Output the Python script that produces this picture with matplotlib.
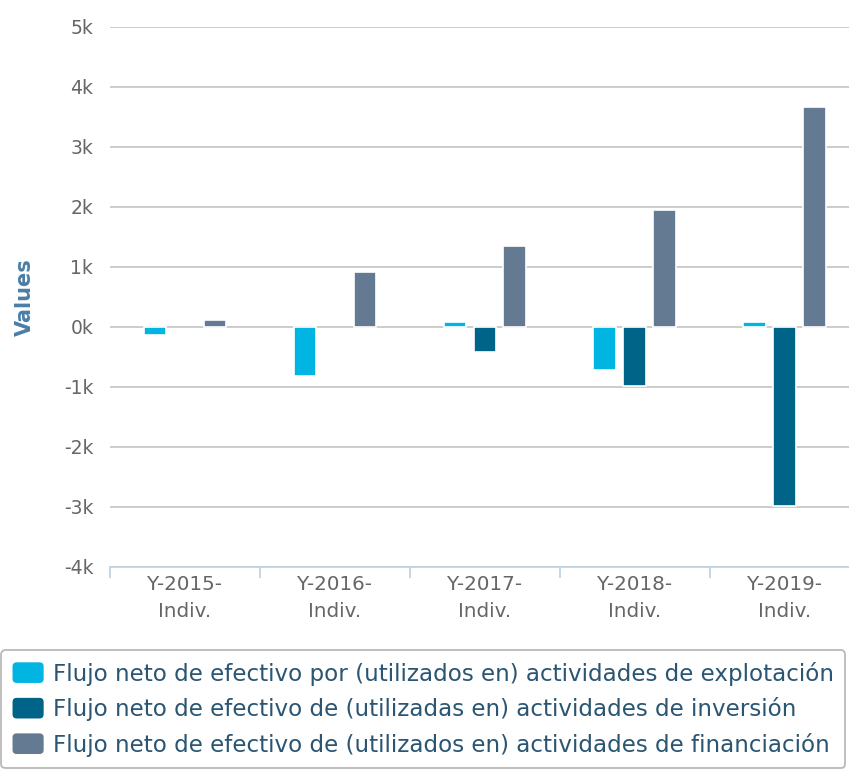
import matplotlib
matplotlib.use("Agg")
import matplotlib.pyplot as plt
import numpy as np
from matplotlib.ticker import FuncFormatter, FixedLocator
from matplotlib.patches import Patch, FancyBboxPatch
from matplotlib.legend_handler import HandlerPatch

plt.rcParams['font.family'] = ['DejaVu Sans']

categories = ["Y-2015-\nIndiv.", "Y-2016-\nIndiv.", "Y-2017-\nIndiv.", "Y-2018-\nIndiv.", "Y-2019-\nIndiv."]
series_names = [
    "Flujo neto de efectivo por (utilizados en) actividades de explotación",
    "Flujo neto de efectivo de (utilizadas en) actividades de inversión",
    "Flujo neto de efectivo de (utilizados en) actividades de financiación",
]
explotacion = [-140, -810, 80, -720, 80]
inversion = [0, 0, -410, -980, -2990]
financiacion = [110, 920, 1350, 1950, 3670]
colors = ["#00b5e2", "#006489", "#647a93"]

fig = plt.figure(figsize=(8.49, 7.73), dpi=100)
ax = fig.add_axes([110/849, 1-567/773, 1-110/849, (567-27)/773])

x = np.arange(len(categories))
width = 0.15
offsets = [-0.2, 0.0, 0.2]
all_series = [explotacion, inversion, financiacion]
for s, off, c, name in zip(all_series, offsets, colors, series_names):
    b = ax.bar(x + off, s, width=width, color=c, edgecolor="white", linewidth=1.2, zorder=3, label=name)
    for rect, v in zip(b.patches, s):
        if v == 0:
            rect.set_visible(False)

ax.set_ylim(-4000, 5000)
ax.set_xlim(-0.5, 4.43)
ax.set_yticks(np.arange(-4000, 5001, 1000))
ax.yaxis.set_major_formatter(FuncFormatter(lambda v, p: f"{int(round(v/1000))}k"))
ax.grid(axis="y", color="#c8c8c8", linewidth=1.3, zorder=0)
ax.set_axisbelow(True)
for sp in ["top", "right", "left"]:
    ax.spines[sp].set_visible(False)
ax.spines["bottom"].set_color("#c0d4e4")
ax.spines["bottom"].set_linewidth(1.3)
ax.tick_params(axis="y", length=0, pad=12, labelsize=13.5, labelcolor="#666666")

ax.set_xticks(x)
ax.set_xticklabels(categories, fontsize=14.3, color="#666666", linespacing=1.5)
ax.tick_params(axis="x", which="major", length=0, pad=6)
ax.xaxis.set_minor_locator(FixedLocator(np.arange(-0.5, 4.6, 1.0)))
ax.tick_params(axis="x", which="minor", length=8, color="#c0d4e4", width=1.3)

fig.text(25/849, 1-297/773, "Values", rotation=90, ha="center", va="center",
         fontsize=15, fontweight="bold", color="#4a7ea6")


class RoundHandler(HandlerPatch):
    def create_artists(self, legend, orig_handle, xdescent, ydescent, width, height, fontsize, trans):
        r = 3.0
        p = FancyBboxPatch((-xdescent + r, -ydescent + r), width - 2 * r, height - 2 * r,
                           boxstyle=f"round,pad={r},rounding_size={r}",
                           facecolor=orig_handle.get_facecolor(), edgecolor="none",
                           transform=trans)
        return [p]


handles = [Patch(facecolor=c) for c in colors]
leg = fig.legend(handles=handles, labels=series_names, loc="upper left",
                 bbox_to_anchor=(1/849, 1-650/773),
                 prop={"family": "DejaVu Sans", "size": 16.6},
                 frameon=True, fancybox=True, edgecolor="#a8a8a8",
                 handlelength=1.35, handleheight=1.0, handletextpad=0.4,
                 labelspacing=0.5, borderpad=0.5, borderaxespad=0,
                 handler_map={Patch: RoundHandler()})
for t in leg.get_texts():
    t.set_color("#2b5673")
leg.get_frame().set_linewidth(1.3)

fig.savefig("out.png", dpi=100)
